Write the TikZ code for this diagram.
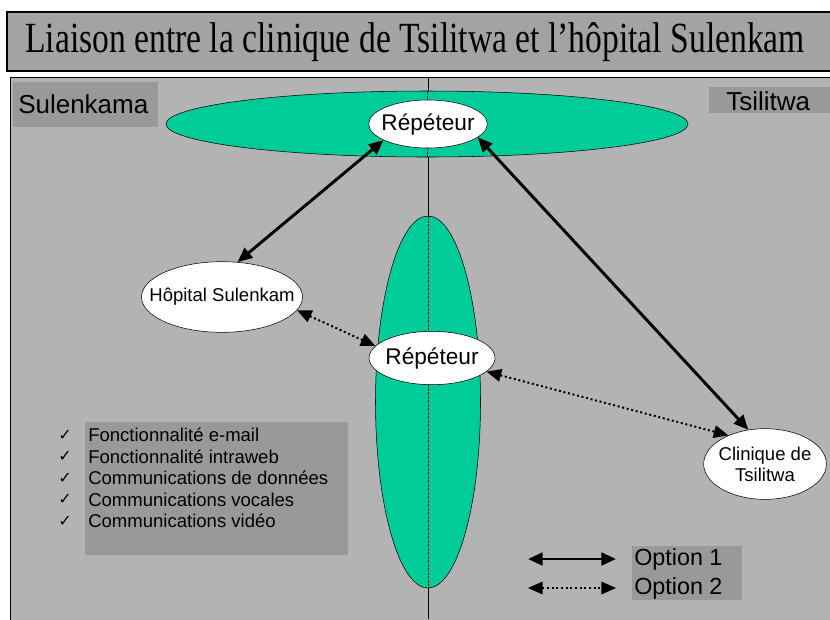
\documentclass[tikz,border=0pt]{standalone}
\usepackage{fontspec}
\setmainfont{Liberation Serif}
\setsansfont{Liberation Sans}
\newfontfamily\symbolfont{DejaVu Sans}
\usetikzlibrary{arrows.meta, positioning, shapes.geometric}

\definecolor{panelgray}{RGB}{179,179,179}
\definecolor{boxgray}{RGB}{153,153,153}
\definecolor{titlegray}{RGB}{163,163,163}
\definecolor{relaygreen}{RGB}{0,204,153}

% text that does not widen its ellipse
\newcommand{\sitetext}[1]{\makebox[0pt]{\shortstack{#1}}}

\tikzset{
  zone/.style={ellipse, draw, fill=relaygreen, inner sep=0pt},
  site/.style={ellipse, draw, fill=white, inner sep=0pt,
    font=\sffamily\fontsize{13.9}{16.5}\selectfont},
  relay/.style={site, font=\sffamily\fontsize{17}{20}\selectfont},
  optone/.style={line width=2.2pt, {Triangle[length=11pt,width=9.5pt]}-{Triangle[length=11pt,width=9.5pt]}},
  opttwo/.style={line width=1.5pt, dotted, {Triangle[length=11pt,width=9.5pt]}-{Triangle[length=11pt,width=9.5pt]}},
  tag/.style={inner sep=0pt, font=\sffamily\fontsize{19.5}{22}\selectfont},
  feature/.style={anchor=west, inner sep=0pt, font=\sffamily\fontsize{13.9}{16}\selectfont},
  check/.style={inner sep=0pt, font=\symbolfont\fontsize{12}{14}\selectfont}
}

\begin{document}
\begin{tikzpicture}[x=0.75pt, y=-0.75pt]
  \useasboundingbox (0,0) rectangle (830,619);
  \fill[white] (0,0) rectangle (830,619);
  % Title
  \draw[line width=1.2pt, fill=titlegray] (7,12) rectangle (834,71);
  \node[font=\fontsize{25.2}{30}\selectfont] (title) at (415,42)
    {\scalebox{1}[1.28]{Liaison entre la clinique de Tsilitwa et l’hôpital Sulenkam}};
  % Panel
  \draw[fill=panelgray] (10,77) rectangle (834,622);
  \draw (428,77) -- (428,619);
  % Regions
  \fill[boxgray] (13,82) rectangle (158,127);
  \node[tag, anchor=west] (west) at (18,104) {Sulenkama};
  \fill[boxgray] (709,87) rectangle (834,113);
  \node[tag, anchor=west] (east) at (726,101) {Tsilitwa};
  % Relay coverage
  \node[zone, minimum width=391.5pt, minimum height=49.5pt] (hzone) at (427,124) {};
  \node[zone, minimum width=78.75pt, minimum height=279pt] (vzone) at (428,402) {};
  \draw[very thin, densely dotted] (hzone.north) -- (hzone.south);
  \draw[very thin, densely dotted] (vzone.north) -- (vzone.south);
  % Sites
  \node[relay, minimum width=89pt, minimum height=36pt] (reptop) at (428,124) {\sitetext{Répéteur}};
  \node[relay, minimum width=94.5pt, minimum height=40pt] (repmid) at (432,358) {\sitetext{Répéteur}};
  \node[site, minimum width=120.75pt, minimum height=53pt] (hop) at (222,297) {\sitetext{Hôpital Sulenkam}};
  \node[site, minimum width=92pt, minimum height=53pt] (clin) at (765,464) {\sitetext{Clinique de\\Tsilitwa}};
  % Links
  \draw[optone] (hop.66) -- (reptop.200);
  \draw[optone] (reptop.-15) -- (clin.116);
  \draw[opttwo] (hop.-10) -- (repmid.168);
  \draw[opttwo] (repmid.-14) -- (clin.142);
  % Services
  \fill[boxgray] (85,422) rectangle (348,555);
  \foreach \feat [count=\i] in {Fonctionnalité e-mail, Fonctionnalité intraweb,
      Communications de données, Communications vocales, Communications vidéo} {
    \node[feature] (feat\i) at (88,{435+21.5*(\i-1)}) {\feat};
    \node[check, left=12pt of feat\i] (tick\i) {✓};
  }
  % Legend
  \fill[boxgray] (632,546) rectangle (742,600);
  \node[feature, font=\sffamily\fontsize{17.5}{20}\selectfont] (opt1) at (634,559) {Option 1};
  \node[feature, font=\sffamily\fontsize{17.5}{20}\selectfont] (opt2) at (634,588) {Option 2};
  \coordinate (l1a) at (528,559);
  \coordinate (l1b) at (616,559);
  \coordinate (l2a) at (528,588);
  \coordinate (l2b) at (616,588);
  \draw[optone] (l1a) -- (l1b);
  \draw[opttwo, line width=0.9pt] (l2a) -- (l2b);
\end{tikzpicture}
\end{document}
